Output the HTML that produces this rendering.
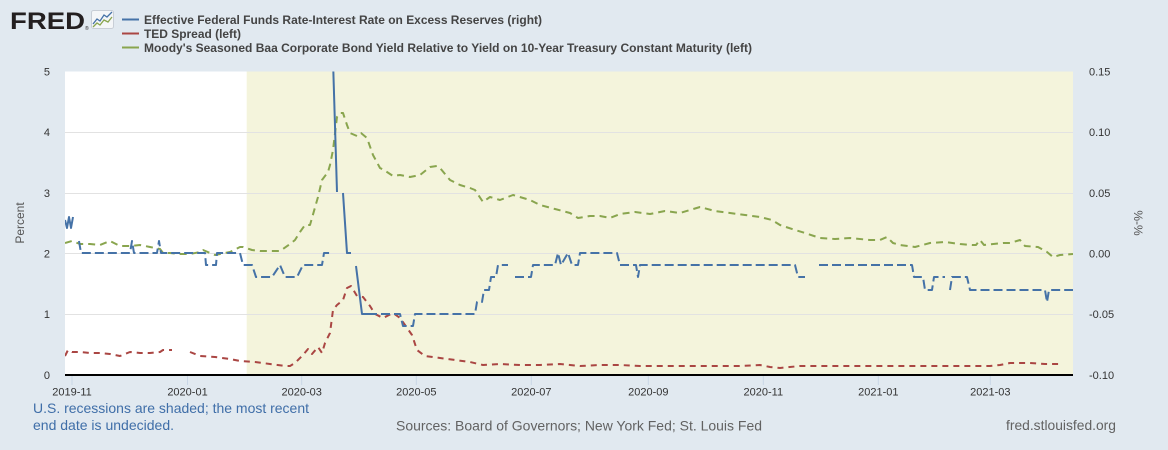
<!DOCTYPE html>
<html><head><meta charset="utf-8"><style>
html,body{margin:0;padding:0;background:#e1e9f0;}
svg{display:block;font-family:"Liberation Sans",Arial,sans-serif;}
</style></head><body>
<svg width="1168" height="450" viewBox="0 0 1168 450" xmlns="http://www.w3.org/2000/svg">
<rect x="0" y="0" width="1168" height="450" fill="#e1e9f0"/>
<!-- logo -->
<text x="10" y="29" font-size="24" font-weight="bold" fill="#231f20" textLength="75" lengthAdjust="spacingAndGlyphs">FRED</text>
<text x="85" y="30" font-size="5" fill="#231f20">®</text>
<rect x="91.5" y="10.5" width="22" height="18" rx="2" fill="#f4f6f8" stroke="#c8ced6" stroke-width="1"/>
<polyline points="93,24 97,19 100,21 104,15 107,17 112,12" fill="none" stroke="#4572a7" stroke-width="1.3"/>
<polyline points="93,27 97,23 100,25 104,20 108,22 112,17" fill="none" stroke="#89a54e" stroke-width="1.3"/>
<!-- legend -->
<line x1="122" y1="19.5" x2="139" y2="19.5" stroke="#4572a7" stroke-width="2"/>
<line x1="122" y1="33.5" x2="139" y2="33.5" stroke="#aa4643" stroke-width="2"/>
<line x1="122" y1="47.5" x2="139" y2="47.5" stroke="#89a54e" stroke-width="2"/>
<g font-size="12" font-weight="bold" fill="#444">
<text x="144" y="24" textLength="398" lengthAdjust="spacingAndGlyphs">Effective Federal Funds Rate-Interest Rate on Excess Reserves (right)</text>
<text x="144" y="38" textLength="97" lengthAdjust="spacingAndGlyphs">TED Spread (left)</text>
<text x="144" y="52" textLength="608" lengthAdjust="spacingAndGlyphs">Moody's Seasoned Baa Corporate Bond Yield Relative to Yield on 10-Year Treasury Constant Maturity (left)</text>
</g>
<!-- plot area -->
<rect x="65" y="71.5" width="1008" height="303.5" fill="#ffffff"/>
<rect x="246.7" y="71.5" width="826.3" height="303.5" fill="#f4f4dc"/>
<g stroke="#e2e2e2" stroke-width="1">
<line x1="65" y1="132.5" x2="1073" y2="132.5"/>
<line x1="65" y1="193.5" x2="1073" y2="193.5"/>
<line x1="65" y1="253.5" x2="1073" y2="253.5"/>
<line x1="65" y1="314.5" x2="1073" y2="314.5"/>
</g>
<!-- x ticks -->
<g stroke="#c9d6e6" stroke-width="1">
<line x1="72" y1="376" x2="72" y2="385"/>
<line x1="187.5" y1="376" x2="187.5" y2="385"/>
<line x1="301.7" y1="376" x2="301.7" y2="385"/>
<line x1="416.3" y1="376" x2="416.3" y2="385"/>
<line x1="531.3" y1="376" x2="531.3" y2="385"/>
<line x1="648.3" y1="376" x2="648.3" y2="385"/>
<line x1="763.3" y1="376" x2="763.3" y2="385"/>
<line x1="878.3" y1="376" x2="878.3" y2="385"/>
<line x1="990.3" y1="376" x2="990.3" y2="385"/>
</g>
<clipPath id="pc"><rect x="65" y="71.5" width="1008" height="303.5"/></clipPath>
<g clip-path="url(#pc)" fill="none" stroke-linejoin="round">
<!-- green -->
<polyline stroke="#89a54e" stroke-width="2" stroke-dasharray="7 5" points="65,243 72,241 80,244 90,244 100,245 110,241 120,246 130,246 140,245 150,247 160,249 163,253 170,253 180,254 190,254 200,252 203,250 210,253 215,255 230,252 240,247 243,247 252,250 260,251 270,251 280,251 283,249 290,244 295,240 300,232 305,225 310,225 318,197 322,180 328,172 330,165 333,150 337,117 340,113 343,113 347,125 350,133 357,136 361,133 367,138 373,155 380,168 384,170 393,176 400,175 410,177 420,175 430,167 437,166 440,168 450,180 460,185 470,188 475,190 483,202 490,197 500,200 513,195 530,200 540,205 555,209 570,213 578,218 590,216 600,216 610,218 620,214 635,212 650,214 665,211 680,213 700,207 715,211 730,213 745,215 760,217 772,220 780,225 795,230 805,233 820,238 835,239 850,238 870,240 880,240 887,237 893,243 900,245 915,247 930,243 945,242 960,244 972,245 976,245 980,240 984,245 1003,243 1010,243 1020,240 1025,246 1038,247 1047,252 1053,257 1060,255 1073,254"/>
<!-- red -->
<polyline stroke="#aa4643" stroke-width="2" stroke-dasharray="6 5" points="65,356 68,350 72,352 80,352 90,353 100,353 110,354 120,356 130,352 140,353 150,353 160,352 163,350 172,350"/>
<polyline stroke="#aa4643" stroke-width="2" stroke-dasharray="6 5" points="190,352 200,356 215,357 230,359 240,361 255,362 270,364 285,366 290,366 295,363 303,355 308,349 312,354 318,347 322,353 325,343 330,333 333,310 337,305 343,300 347,288 351,286 357,296 363,297 370,306 375,314 383,318 393,313 400,318 405,325 412,335 417,350 425,356 440,358 455,360 470,362 483,365 500,364 520,365 540,365 560,364 580,366 600,365 620,365 640,366 660,366 680,366 700,366 720,366 740,366 760,365 770,367 780,368 790,367 800,366 840,366 880,366 920,366 960,366 990,366 1000,365 1010,363 1030,363 1045,364 1063,364"/>
<!-- blue -->
<polyline stroke="#4572a7" stroke-width="2" points="65,220 67,228 69,217 71,228 73,217"/>
<polyline stroke="#4572a7" stroke-width="2" stroke-dasharray="9 4" points="79,241 81,253 130,253 132,241 134,253 157,253 159,241 161,253 205,253 206,265 216,265 217,253 240,253 243,265 252,265 256,277 272,277 280,265 285,277 297,277 303,265 322,265 324,253 330,253"/>
<polyline stroke="#4572a7" stroke-width="2" points="333,60 337,192"/>
<polyline stroke="#4572a7" stroke-width="2" points="343,193 347,253 351,253"/>
<polyline stroke="#4572a7" stroke-width="2" points="356,266 362,314 368,314"/>
<polyline stroke="#4572a7" stroke-width="2" stroke-dasharray="9 4" points="368,314 400,314 403,326 413,326 415,314 475,314 477,302 482,302 484,290 489,290 491,277 496,277 498,265 508,265"/>
<polyline stroke="#4572a7" stroke-width="2" stroke-dasharray="9 4" points="515,277 531,277 533,265 555,265 558,253 561,265 568,253 572,265 578,265 580,253 617,253 620,265 636,265 638,277 640,265 795,265 798,277 805,277"/>
<polyline stroke="#4572a7" stroke-width="2" stroke-dasharray="9 4" points="819,265 912,265 914,277 923,277 925,290 932,290 934,277 945,277"/>
<polyline stroke="#4572a7" stroke-width="2" stroke-dasharray="9 4" points="950,290 952,277 958,277 967,277 970,290 1045,290 1047,302 1049,290 1073,290"/>
</g>
<!-- bottom axis line -->
<line x1="65" y1="375" x2="1073" y2="375" stroke="#000" stroke-width="2"/>
<!-- left y labels -->
<g font-size="11" fill="#333" text-anchor="end">
<text x="50" y="379">0</text>
<text x="50" y="318">1</text>
<text x="50" y="257.5">2</text>
<text x="50" y="197">3</text>
<text x="50" y="136">4</text>
<text x="50" y="75.5">5</text>
</g>
<!-- right y labels -->
<g font-size="11" fill="#333">
<text x="1089" y="75.5">0.15</text>
<text x="1089" y="136">0.10</text>
<text x="1089" y="197">0.05</text>
<text x="1089" y="257.5">0.00</text>
<text x="1089" y="318">-0.05</text>
<text x="1089" y="379">-0.10</text>
</g>
<text transform="translate(24,223) rotate(-90)" font-size="12" fill="#555" text-anchor="middle">Percent</text>
<text transform="translate(1134,223) rotate(90)" font-size="12" fill="#555" text-anchor="middle">%-%</text>
<!-- x labels -->
<g font-size="11" fill="#333" text-anchor="middle">
<text x="72" y="395.5">2019-11</text>
<text x="187.5" y="395.5">2020-01</text>
<text x="301.7" y="395.5">2020-03</text>
<text x="416.3" y="395.5">2020-05</text>
<text x="531.3" y="395.5">2020-07</text>
<text x="648.3" y="395.5">2020-09</text>
<text x="763.3" y="395.5">2020-11</text>
<text x="878.3" y="395.5">2021-01</text>
<text x="990.3" y="395.5">2021-03</text>
</g>
<!-- footer -->
<g font-size="14">
<text x="33" y="413" fill="#3f6ea8" textLength="276" lengthAdjust="spacingAndGlyphs">U.S. recessions are shaded; the most recent</text>
<text x="33" y="430" fill="#3f6ea8" textLength="141" lengthAdjust="spacingAndGlyphs">end date is undecided.</text>
<text x="396" y="430.5" fill="#626262" textLength="366" lengthAdjust="spacingAndGlyphs">Sources: Board of Governors; New York Fed; St. Louis Fed</text>
<text x="1006" y="430" fill="#626262" textLength="110" lengthAdjust="spacingAndGlyphs">fred.stlouisfed.org</text>
</g>
</svg>
</body></html>
